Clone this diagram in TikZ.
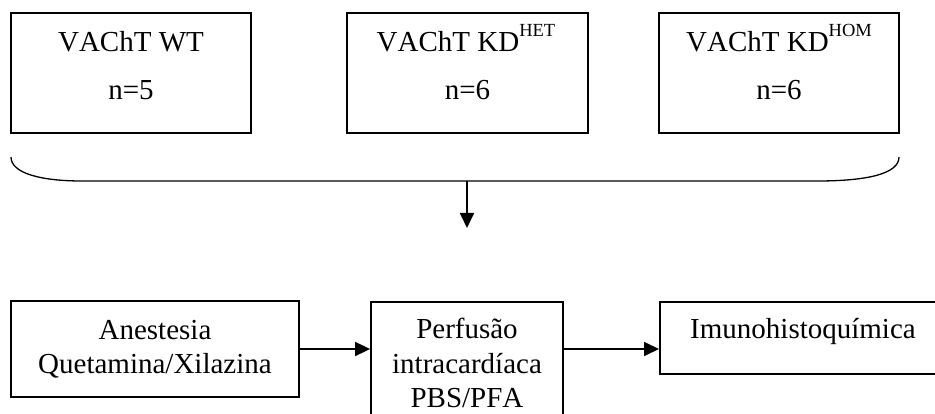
\documentclass[tikz,border=0pt]{standalone}
\usepackage{fontspec}
\setmainfont[Kerning=Off]{Liberation Serif}
\usetikzlibrary{arrows.meta}
\newcommand{\supx}[1]{\raisebox{15pt}{\fontsize{18.5}{18.5}\selectfont #1}}
\begin{document}
\begin{tikzpicture}[x=1pt,y=-1pt,
  box/.style={draw,line width=1.8pt,rectangle,inner sep=0pt},
  txt/.style={anchor=base,inner sep=0pt,font=\fontsize{29}{35}\selectfont},
  conn/.style={line width=1.8pt,-{Triangle[length=15pt,width=14pt]}},
  brace/.style={line width=1.3pt}]
\useasboundingbox (0,0) rectangle (935,414);
\clip (0,0) rectangle (935,414);
% top boxes
\node[box,minimum width=240pt,minimum height=120pt] (wt) at (131,73) {};
\node[box,minimum width=241pt,minimum height=120pt] (het) at (467.5,73) {};
\node[box,minimum width=240pt,minimum height=120pt] (hom) at (779,73) {};
\node[txt] (wt1) at (131,52) {VAChT WT};
\node[txt] (wt2) at (131,100) {n=5};
\node[txt] (het1) at (466,52) {VAChT KD\supx{HET}};
\node[txt] (het2) at (467.5,100) {n=6};
\node[txt] (hom1) at (779,52) {VAChT KD\supx{HOM}};
\node[txt] (hom2) at (779,100) {n=6};
% brace
\coordinate (bl) at (11,157);
\coordinate (br) at (899,157);
\coordinate (bm) at (467,181);
\coordinate (bt) at (467,228);
\draw[brace] (bl) .. controls (11,173) and (40,181) .. (82,181) -- (817,181)
  .. controls (870,181) and (899,173) .. (br);
\draw[conn] (bm) -- (bt);
% bottom boxes
\node[box,minimum width=288pt,minimum height=96pt] (an) at (155,349) {};
\node[box,minimum width=192pt,minimum height=140pt] (pf) at (467,372) {};
\node[box,minimum width=300pt,minimum height=72pt,anchor=north west] (im) at (659,301) {};
\node[txt] (an1) at (155,339) {Anestesia};
\node[txt] (an2) at (155,373) {Quetamina/Xilazina};
\node[txt] (pf1) at (467,338) {Perfusão};
\node[txt] (pf2) at (467,373) {intracardíaca};
\node[txt] (pf3) at (467,407) {PBS/PFA};
\node[txt] (im1) at (803,338) {Imunohistoquímica};
\draw[conn] (an.east) -- (an.east -| pf.west);
\draw[conn] (pf.east |- an.east) -- (im.west |- an.east);
\end{tikzpicture}
\end{document}
